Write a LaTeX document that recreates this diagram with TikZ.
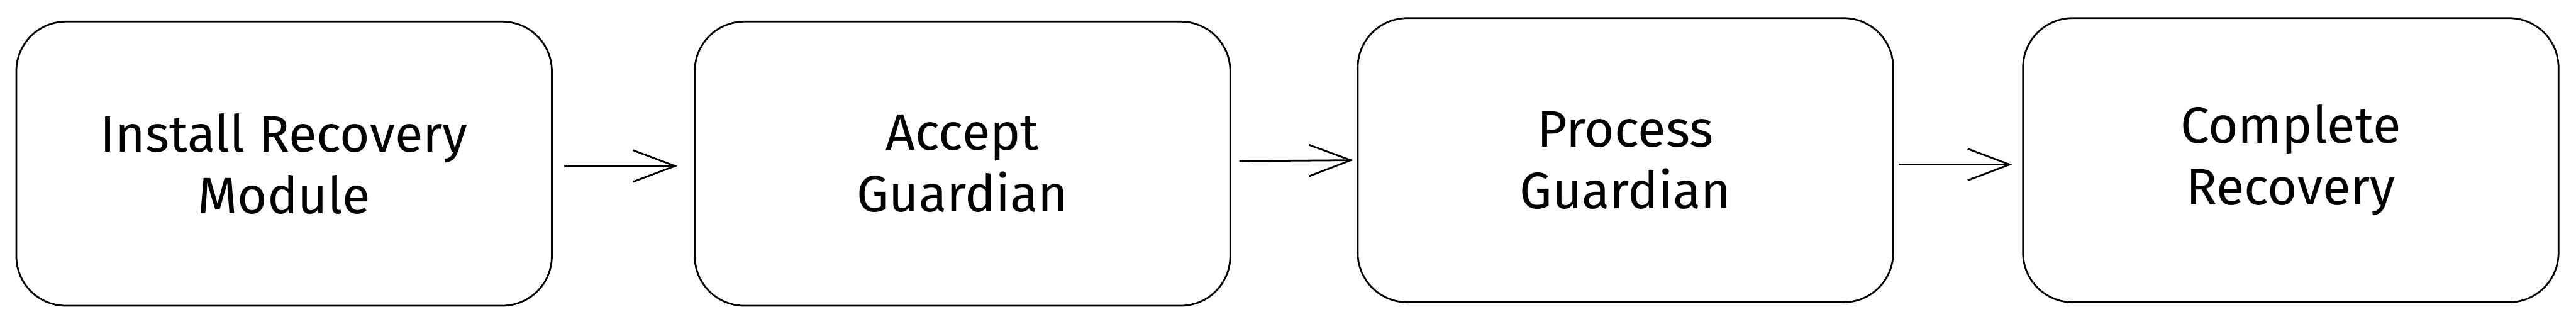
\documentclass[tikz,border=0pt]{standalone}
\usepackage{fontspec}
\setmainfont{Fira Sans}
\usetikzlibrary{arrows.meta}

\begin{document}
\begin{tikzpicture}
        \tikzset{stage/.style={draw, rectangle, rounded corners=0.85cm, line width=0.85pt,
                minimum width=9.18cm, minimum height=4.87cm, align=center,
                font=\fontsize{25}{30}\selectfont},
            flow/.style={draw, line width=0.85pt,
                -{Straight Barb[length=0.72cm,width=0.54cm,line width=0.85pt]}}}
        \useasboundingbox (0,0) rectangle (44.16,5.55);
        \node[stage] (install) at (4.87,2.745) {Install Recovery\\Module};
        \node[stage] (accept) at (16.50,2.745) {Accept\\Guardian};
        \node[stage] (process) at (27.865,2.805) {Process\\Guardian};
        \node[stage] (complete) at (39.27,2.805) {Complete\\Recovery};
        \draw[flow] ([xshift=0.2cm,yshift=-0.04cm]install.east) -- ([xshift=-0.28cm,yshift=-0.04cm]accept.west);
        \draw[flow] ([xshift=0.14cm,yshift=0.045cm]accept.east) -- ([xshift=-0.06cm]process.west);
        \draw[flow] ([xshift=0.08cm,yshift=-0.075cm]process.east) -- ([xshift=-0.17cm,yshift=-0.075cm]complete.west);
    \end{tikzpicture}
\end{document}
